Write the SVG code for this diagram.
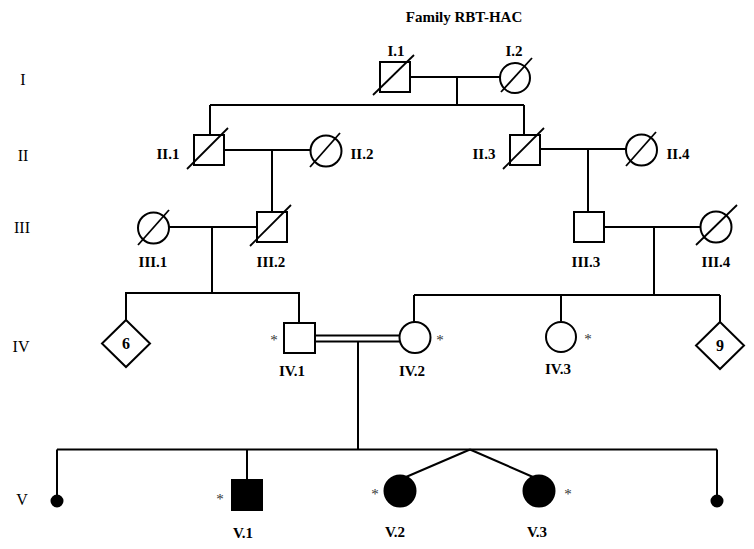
<svg xmlns="http://www.w3.org/2000/svg" width="754" height="549" viewBox="0 0 754 549">
<style>
text{font-family:"Liberation Serif","Times New Roman",serif;fill:#000}
.lbl{font-size:15px;font-weight:bold;text-anchor:middle}
.gen{font-size:16px;text-anchor:middle}
.ast{font-size:15px;fill:#333;text-anchor:middle}
.num{font-size:16px;font-weight:bold;text-anchor:middle}
.shape{fill:#fff;stroke:#000;stroke-width:2}
.aff{fill:#000;stroke:#000;stroke-width:2}
.dec{stroke:#000;stroke-width:1.8}
.con line,.con polyline{stroke:#000;stroke-width:2;fill:none}
</style>
<rect width="754" height="549" fill="#fff"/>
<text x="464" y="22" class="lbl">Family RBT-HAC</text>
<g id="generations">
<text x="23" y="85" class="gen">I</text>
<text x="23" y="161" class="gen">II</text>
<text x="22" y="233" class="gen">III</text>
<text x="21" y="352" class="gen">IV</text>
<text x="22" y="505" class="gen">V</text>
</g>
<g id="connectors" class="con">
<line x1="410" y1="77" x2="500" y2="77"/>
<line x1="457" y1="77" x2="457" y2="105"/>
<line x1="210" y1="105" x2="524" y2="105"/>
<line x1="210" y1="105" x2="210" y2="134"/>
<line x1="524" y1="105" x2="524" y2="135"/>
<line x1="224" y1="150" x2="310" y2="150"/>
<line x1="272" y1="150" x2="272" y2="212"/>
<line x1="540" y1="149" x2="626" y2="149"/>
<line x1="588" y1="149" x2="588" y2="212"/>
<line x1="169" y1="227" x2="257" y2="227"/>
<line x1="212" y1="227" x2="212" y2="293"/>
<line x1="604" y1="227" x2="700" y2="227"/>
<line x1="654" y1="227" x2="654" y2="295"/>
<polyline points="126,320 126,293 299,293 299,323"/>
<line x1="414" y1="295" x2="720" y2="295"/>
<line x1="414" y1="295" x2="414" y2="322"/>
<line x1="561" y1="295" x2="561" y2="321"/>
<line x1="720" y1="295" x2="720" y2="322"/>
<line x1="315" y1="335.5" x2="400" y2="335.5"/>
<line x1="315" y1="341.5" x2="400" y2="341.5"/>
<line x1="358" y1="341.5" x2="358" y2="449.5"/>
<line x1="57" y1="449.5" x2="717" y2="449.5"/>
<line x1="57" y1="449.5" x2="57" y2="498"/>
<line x1="717" y1="449.5" x2="717" y2="498"/>
<line x1="247" y1="449.5" x2="247" y2="480"/>
<line x1="470" y1="449.5" x2="406" y2="477"/>
<line x1="470" y1="449.5" x2="533" y2="477"/>
</g>
<g id="I.1">
<rect x="380" y="62" width="30" height="30" class="shape"/>
<line x1="373" y1="95" x2="414" y2="55" class="dec"/>
<text x="396" y="56" class="lbl">I.1</text>
</g>
<g id="I.2">
<circle cx="515" cy="78" r="15" class="shape"/>
<line x1="501" y1="92" x2="532" y2="58" class="dec"/>
<text x="514" y="56" class="lbl">I.2</text>
</g>
<g id="II.1">
<rect x="194" y="135" width="30" height="30" class="shape"/>
<line x1="187" y1="169" x2="228" y2="128" class="dec"/>
<text x="168" y="159" class="lbl">II.1</text>
</g>
<g id="II.2">
<circle cx="326" cy="151" r="15.5" class="shape"/>
<line x1="310" y1="167" x2="340" y2="133" class="dec"/>
<text x="362" y="159" class="lbl">II.2</text>
</g>
<g id="II.3">
<rect x="510" y="135" width="30" height="30" class="shape"/>
<line x1="503" y1="169" x2="544" y2="128" class="dec"/>
<text x="484" y="159" class="lbl">II.3</text>
</g>
<g id="II.4">
<circle cx="641.5" cy="150" r="15.5" class="shape"/>
<line x1="626" y1="166" x2="656" y2="132" class="dec"/>
<text x="678" y="159" class="lbl">II.4</text>
</g>
<g id="III.1">
<circle cx="153.5" cy="228" r="15.5" class="shape"/>
<line x1="138" y1="245" x2="169" y2="210" class="dec"/>
<text x="153" y="267" class="lbl">III.1</text>
</g>
<g id="III.2">
<rect x="257" y="212" width="30" height="30" class="shape"/>
<line x1="250" y1="246" x2="291" y2="205" class="dec"/>
<text x="271" y="267" class="lbl">III.2</text>
</g>
<g id="III.3">
<rect x="574" y="212" width="30" height="30" class="shape"/>
<text x="586" y="267" class="lbl">III.3</text>
</g>
<g id="III.4">
<circle cx="716" cy="227" r="15.5" class="shape"/>
<line x1="696" y1="245" x2="737" y2="205" class="dec"/>
<text x="716" y="267" class="lbl">III.4</text>
</g>
<g id="IV.6">
<polygon points="126,320 150,343.5 126,367 102,343.5" class="shape"/>
<text x="126" y="349" class="num">6</text>
</g>
<g id="IV.1">
<rect x="284" y="323" width="31" height="30" class="shape"/>
<text x="274" y="345" class="ast">*</text>
<text x="292" y="376" class="lbl">IV.1</text>
</g>
<g id="IV.2">
<circle cx="415" cy="337.5" r="15.5" class="shape"/>
<text x="440" y="345" class="ast">*</text>
<text x="412" y="376" class="lbl">IV.2</text>
</g>
<g id="IV.3">
<circle cx="561" cy="337" r="15" class="shape"/>
<text x="588" y="344" class="ast">*</text>
<text x="558" y="374" class="lbl">IV.3</text>
</g>
<g id="IV.9">
<polygon points="720,322 744,345.5 720,369 696,345.5" class="shape"/>
<text x="720" y="351" class="num">9</text>
</g>
<g id="V.left">
<circle cx="57" cy="501" r="5.5" class="aff"/>
</g>
<g id="V.1">
<rect x="232" y="480" width="30" height="30" class="aff"/>
<text x="220" y="504" class="ast">*</text>
<text x="243" y="538" class="lbl">V.1</text>
</g>
<g id="V.2">
<circle cx="400" cy="491" r="15.5" class="aff"/>
<text x="375" y="499" class="ast">*</text>
<text x="395" y="537" class="lbl">V.2</text>
</g>
<g id="V.3">
<circle cx="539" cy="491" r="15.5" class="aff"/>
<text x="568" y="499" class="ast">*</text>
<text x="537" y="537" class="lbl">V.3</text>
</g>
<g id="V.right">
<circle cx="717" cy="501" r="5.5" class="aff"/>
</g>
</svg>
